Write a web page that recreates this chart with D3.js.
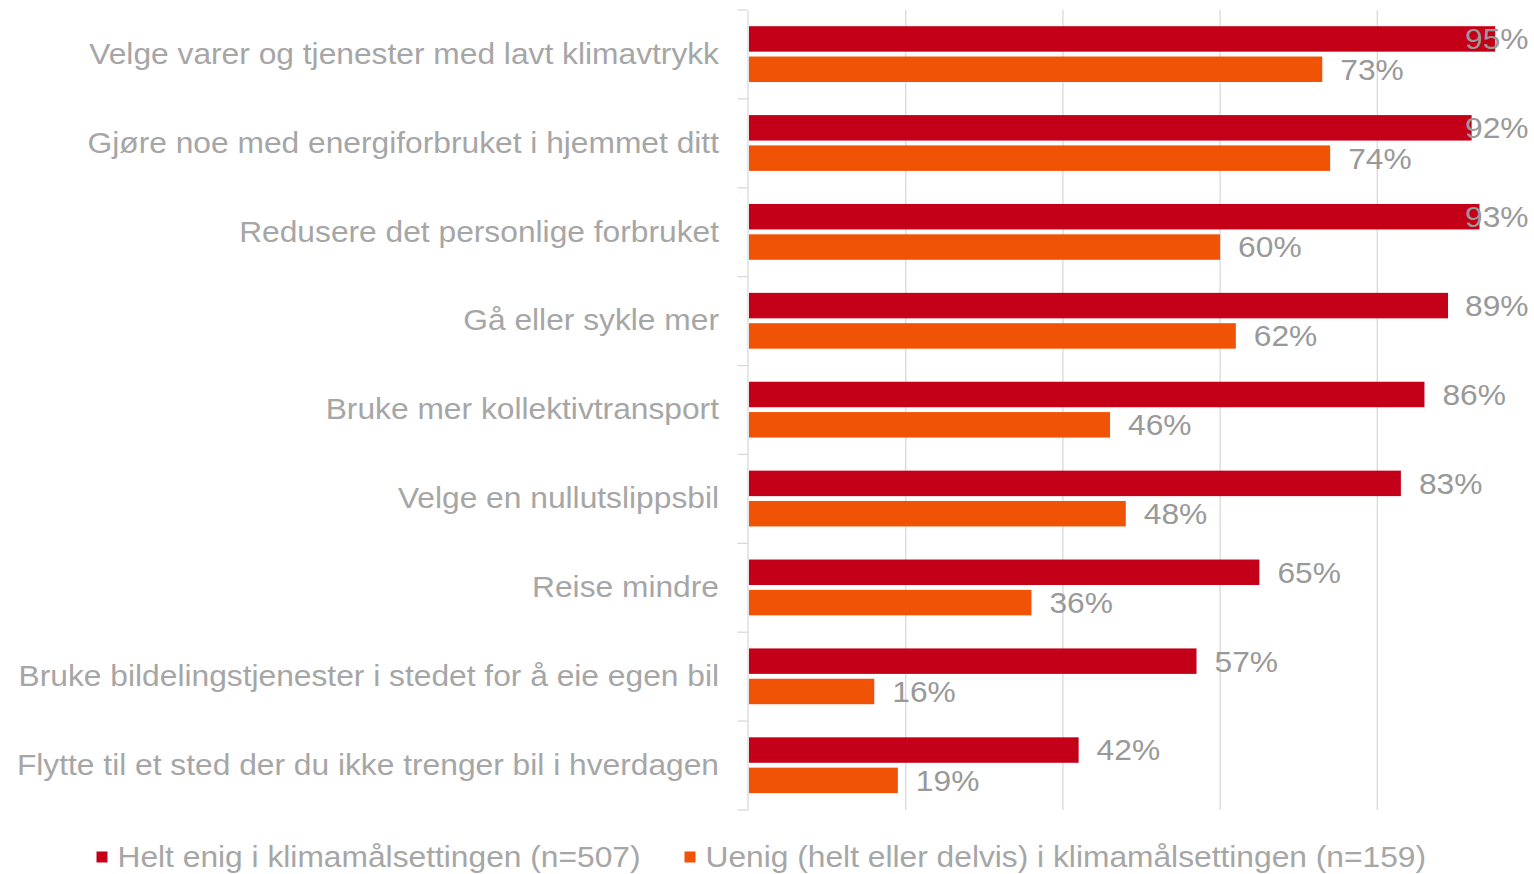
<!DOCTYPE html>
<html>
<head>
<meta charset="utf-8">
<script src="https://cdn.jsdelivr.net/npm/d3@7"></script>
<style>
  html, body { margin: 0; padding: 0; background: #fff; }
  svg text { font-family: "Liberation Sans", Arial, sans-serif; }
</style>
</head>
<body>
<svg id="chart"></svg>
<script>
var width = 1534; // size of the window
var height = 874;

// the data
var categories = [
  "Velge varer og tjenester med lavt klimavtrykk",
  "Gjøre noe med energiforbruket i hjemmet ditt",
  "Redusere det personlige forbruket",
  "Gå eller sykle mer",
  "Bruke mer kollektivtransport",
  "Velge en nullutslippsbil",
  "Reise mindre",
  "Bruke bildelingstjenester i stedet for å eie egen bil",
  "Flytte til et sted der du ikke trenger bil i hverdagen"
];
var enig = [95, 92, 93, 89, 86, 83, 65, 57, 42];
var uenig = [73, 74, 60, 62, 46, 48, 36, 16, 19];
var seriesNames = [
  "Helt enig i klimamålsettingen (n=507)",
  "Uenig (helt eller delvis) i klimamålsettingen (n=159)"
];
var gridTicks = [20, 40, 60, 80];

var colors = ["#c40018", "#f05206"];
var textGrey = "#a6a6a6";
var fontSize = "29px";
var stretch = 1.095; // the text in the picture is a bit wider than the font

var svg = d3.select("#chart")
  .attr("width", width)
  .attr("height", height);

// x scale, 0 to 100 percent
var x = d3.scaleLinear()
  .domain([0, 100])
  .range([748.5, 1534.5]);

// one band per category
var y = d3.scaleBand()
  .domain(categories)
  .range([10, 810])
  .padding(0);

// two bars inside each band
var ySub = d3.scaleBand()
  .domain([0, 1])
  .range([16.2, 72])
  .paddingInner(0.16);

// gridlines
svg.append("g").selectAll("line")
  .data(gridTicks)
  .enter().append("line")
  .attr("x1", d => x(d)).attr("x2", d => x(d))
  .attr("y1", 10).attr("y2", 810)
  .attr("stroke", "#d9d9d9")
  .attr("stroke-width", 1.3);

// category axis on the left
var yAxis = svg.append("g")
  .attr("transform", "translate(747.5,0)")
  .call(d3.axisLeft(y).tickSize(0));
yAxis.select(".domain").attr("stroke", "#d9d9d9").attr("stroke-width", 1.3);
yAxis.selectAll("text")
  .attr("x", 0)
  .attr("transform", "translate(-28.5,0) scale(" + stretch + ",1)")
  .attr("fill", textGrey)
  .style("font-size", fontSize);

// tick marks sit between the categories
var bounds = categories.map(d => y(d)).concat([y.range()[1]]);
yAxis.selectAll(".sep")
  .data(bounds)
  .enter().append("line")
  .attr("class", "sep")
  .attr("x1", -10).attr("x2", 0)
  .attr("y1", d => d).attr("y2", d => d)
  .attr("stroke", "#d9d9d9")
  .attr("stroke-width", 1.3);

var rows = categories.map(function (c, i) {
  return { cat: c, vals: [enig[i], uenig[i]] };
});

var groups = svg.append("g").selectAll("g")
  .data(rows)
  .enter().append("g")
  .attr("transform", d => "translate(0," + y(d.cat) + ")");

groups.selectAll("rect")
  .data(d => d.vals)
  .enter().append("rect")
  .attr("x", x(0) + 0.5)
  .attr("y", (d, i) => ySub(i))
  .attr("width", d => x(d) - x(0) - 0.5)
  .attr("height", ySub.bandwidth())
  .attr("fill", (d, i) => colors[i]);

// value labels, pushed back inside the frame when they run off
groups.selectAll("text.val")
  .data(d => d.vals)
  .enter().append("text")
  .attr("class", "val")
  .attr("transform", (d, i) => "translate(" + Math.min(x(d) + 18, 1465) + "," +
    (ySub(i) + ySub.bandwidth() / 2) + ") scale(" + stretch + ",1)")
  .attr("dy", "0.36em")
  .attr("fill", "#999999")
  .style("font-size", fontSize)
  .text(d => d + "%");

// legend
var legendX = [96.5, 684.5];
var legend = svg.append("g").selectAll("g")
  .data(seriesNames)
  .enter().append("g")
  .attr("transform", (d, i) => "translate(" + legendX[i] + ",851.5)");
legend.append("rect")
  .attr("width", 11).attr("height", 11)
  .attr("fill", (d, i) => colors[i]);
legend.append("text")
  .attr("transform", "translate(21,15.5) scale(" + stretch + ",1)")
  .attr("fill", textGrey)
  .style("font-size", fontSize)
  .text(d => d);
</script>
</body>
</html>
